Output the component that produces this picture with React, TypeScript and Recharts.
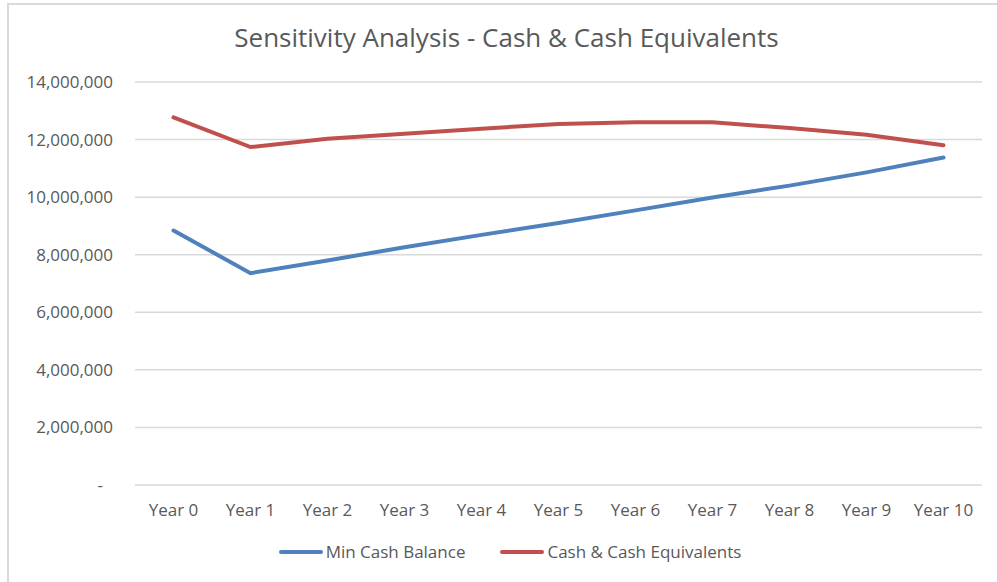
import { LineChart, Line, XAxis, YAxis, CartesianGrid } from 'recharts';

const years = ['Year 0', 'Year 1', 'Year 2', 'Year 3', 'Year 4', 'Year 5', 'Year 6', 'Year 7', 'Year 8', 'Year 9', 'Year 10'];
const minCashBalance = [8840000, 7360000, 7800000, 8260000, 8690000, 9100000, 9540000, 9990000, 10400000, 10860000, 11380000];
const cashEquivalents = [12770000, 11740000, 12030000, 12200000, 12380000, 12540000, 12600000, 12600000, 12400000, 12170000, 11800000];
const yTicks = [0, 2000000, 4000000, 6000000, 8000000, 10000000, 12000000, 14000000];

const series = [
  { key: 'minCash', name: 'Min Cash Balance', color: '#4F81BD' },
  { key: 'cash', name: 'Cash & Cash Equivalents', color: '#C0504D' },
];

const data = years.map((year, i) => ({
  year,
  minCash: minCashBalance[i],
  cash: cashEquivalents[i],
}));

const FONT = '"Open Sans", sans-serif';
const TEXT = '#595959';

const YTick = ({ x, y, payload }: any) => {
  const v = payload.value;
  return (
    <text
      x={v === 0 ? x - 10 : x}
      y={y}
      dy="0.355em"
      textAnchor="end"
      fill={TEXT}
      fontSize={17}
      fontFamily={FONT}
    >
      {v === 0 ? '-' : v.toLocaleString('en-US')}
    </text>
  );
};

export default function App() {
  return (
    <div style={{ position: 'absolute', left: 0, top: 0, width: 997, height: 582, overflow: 'hidden', background: '#fff' }}>
      <div
        style={{
          position: 'absolute',
          left: 7,
          top: 3,
          width: 1010,
          height: 600,
          border: '2px solid #d9d9d9',
          boxSizing: 'border-box',
        }}
      />
      <div
        style={{
          position: 'absolute',
          left: 0,
          top: 24,
          width: 1013,
          textAlign: 'center',
          fontFamily: FONT,
          fontSize: 26,
          lineHeight: '26px',
          color: TEXT,
        }}
      >
        Sensitivity Analysis - Cash &amp; Cash Equivalents
      </div>
      <div style={{ position: 'absolute', left: 0, top: 0 }}>
        <LineChart width={997} height={582} data={data} margin={{ top: 82, right: 15, bottom: 67, left: 0 }}>
          <CartesianGrid vertical={false} stroke="#d9d9d9" strokeWidth={1.5} />
          <XAxis
            dataKey="year"
            height={30}
            axisLine={false}
            tickLine={false}
            tickMargin={13}
            padding={{ left: 38.5, right: 38.5 }}
            tick={{ fill: TEXT, fontSize: 17, fontFamily: FONT }}
            interval={0}
          />
          <YAxis
            width={135}
            domain={[0, 14000000]}
            ticks={yTicks}
            axisLine={false}
            tickLine={false}
            tickMargin={16}
            tick={<YTick />}
            interval={0}
          />
          {series.map((s) => (
            <Line
              key={s.key}
              type="linear"
              dataKey={s.key}
              name={s.name}
              stroke={s.color}
              strokeWidth={4}
              strokeLinecap="round"
              dot={false}
              activeDot={false}
              isAnimationActive={false}
            />
          ))}
        </LineChart>
      </div>
      <div
        style={{
          position: 'absolute',
          left: 0,
          top: 541,
          width: 1020,
          display: 'flex',
          justifyContent: 'center',
          gap: 35,
          fontFamily: FONT,
          fontSize: 17,
          lineHeight: '22px',
          color: TEXT,
        }}
      >
        {series.map((s) => (
          <div key={s.key} style={{ display: 'flex', alignItems: 'center' }}>
            <span style={{ display: 'inline-block', width: 44, height: 4, borderRadius: 2, background: s.color, marginRight: 3 }} />
            <span>{s.name}</span>
          </div>
        ))}
      </div>
    </div>
  );
}
